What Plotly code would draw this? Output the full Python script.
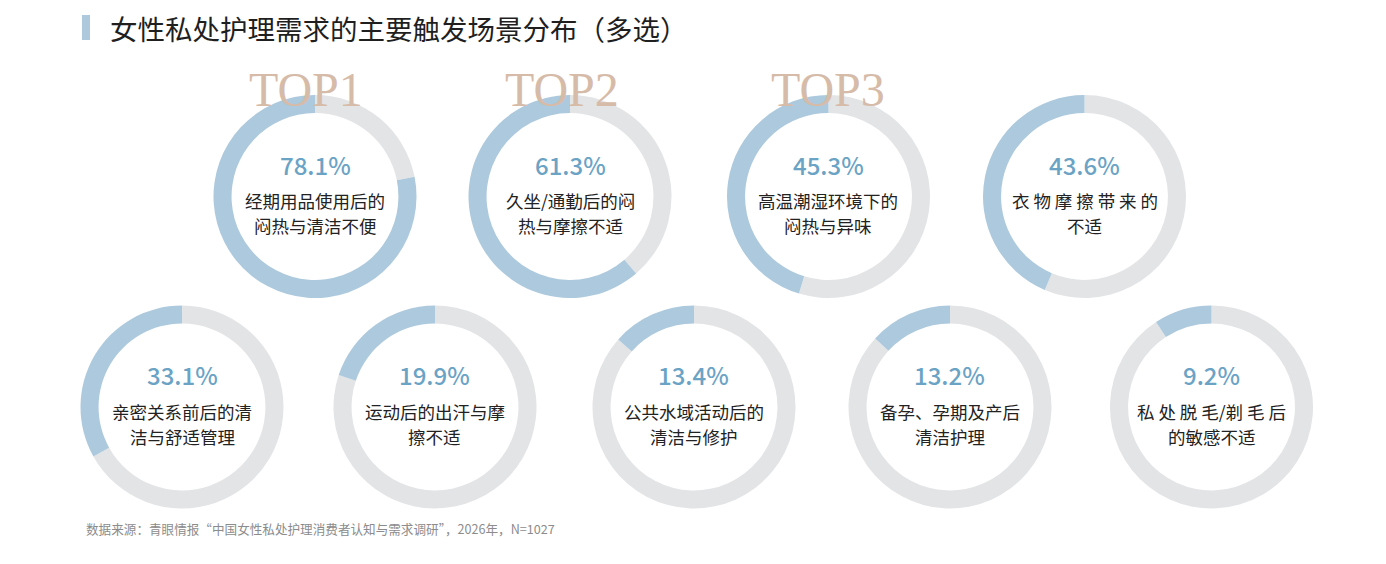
import plotly.graph_objects as go

W, H = 1386, 564

# ---- data ----
scenes = [
    "经期用品使用后的\n闷热与清洁不便",
    "久坐/通勤后的闷\n热与摩擦不适",
    "高温潮湿环境下的\n闷热与异味",
    "衣 物 摩 擦 带 来 的\n不适",
    "亲密关系前后的清\n洁与舒适管理",
    "运动后的出汗与摩\n擦不适",
    "公共水域活动后的\n清洁与修护",
    "备孕、孕期及产后\n清洁护理",
    "私 处 脱 毛/剃 毛 后\n的敏感不适",
]
shares = [78.1, 61.3, 45.3, 43.6, 33.1, 19.9, 13.4, 13.2, 9.2]
top_tags = ["TOP1", "TOP2", "TOP3"]

title = "女性私处护理需求的主要触发场景分布（多选）"
source = "数据来源：青眼情报“中国女性私处护理消费者认知与需求调研”，2026年，N=1027"

# ---- layout (pixel centres of each donut) ----
centers = [(315, 196.5), (570, 196.5), (828.5, 196.5), (1084.5, 196.5),
           (182, 407), (435, 407), (694, 407), (950, 407), (1211.5, 407)]
R = 101.5
top_pos = [(306, 90), (562, 90), (828, 90)]

BLUE = "#adc9dd"
GREY = "#e3e4e6"
PCT = "#6ba3c5"
TOPC = "#d6bba8"
CJK = "Noto Sans CJK SC"

fig = go.Figure()
annotations = []

for (cx, cy), val, lab in zip(centers, shares, scenes):
    # remainder first (clockwise from 12 o'clock) so the share ends at 12 o'clock
    fig.add_trace(go.Pie(
        values=[100 - val, val],
        marker=dict(colors=[GREY, BLUE], line=dict(width=0)),
        hole=0.822,
        sort=False,
        direction="clockwise",
        rotation=0,
        textinfo="none",
        hoverinfo="skip",
        showlegend=False,
        domain=dict(x=[(cx - R) / W, (cx + R) / W],
                    y=[1 - (cy + R) / H, 1 - (cy - R) / H]),
    ))
    annotations.append(dict(
        x=cx / W, y=1 - (cy - 32.5) / H, xref="paper", yref="paper",
        text=f"{val:.1f}%", showarrow=False, xanchor="center", yanchor="middle",
        font=dict(family=CJK, size=24, color=PCT, weight=500)))
    for k, line in enumerate(lab.split("\n")):
        annotations.append(dict(
            x=cx / W, y=1 - (cy + 4 + 25 * k) / H, xref="paper", yref="paper",
            text=line, showarrow=False, xanchor="center", yanchor="middle",
            font=dict(family=CJK, size=17.5, color="#222222")))

for (tx, ty), tag in zip(top_pos, top_tags):
    annotations.append(dict(
        x=tx / W, y=1 - ty / H, xref="paper", yref="paper",
        text=tag, showarrow=False, xanchor="center", yanchor="middle",
        font=dict(family="Liberation Serif", size=48, color=TOPC)))

annotations.append(dict(
    x=108 / W, y=1 - 28 / H, xref="paper", yref="paper", text=title,
    showarrow=False, xanchor="left", yanchor="middle",
    font=dict(family=CJK, size=27.5, color="#1f1f1f")))
annotations.append(dict(
    x=84 / W, y=1 - 528 / H, xref="paper", yref="paper", text=source,
    showarrow=False, xanchor="left", yanchor="middle",
    font=dict(family=CJK, size=12.6, color="#8c8c8c")))

fig.update_layout(
    width=W, height=H,
    margin=dict(l=0, r=0, t=0, b=0),
    paper_bgcolor="white", plot_bgcolor="white",
    annotations=annotations,
    shapes=[dict(type="rect", xref="paper", yref="paper",
                 x0=82 / W, x1=90 / W, y0=1 - 40 / H, y1=1 - 15 / H,
                 fillcolor="#aec8dc", line=dict(width=0))],
)

fig.write_html("out.html", config={"displayModeBar": False},
               post_script="document.body.style.margin='0';document.body.style.overflow='hidden';")
